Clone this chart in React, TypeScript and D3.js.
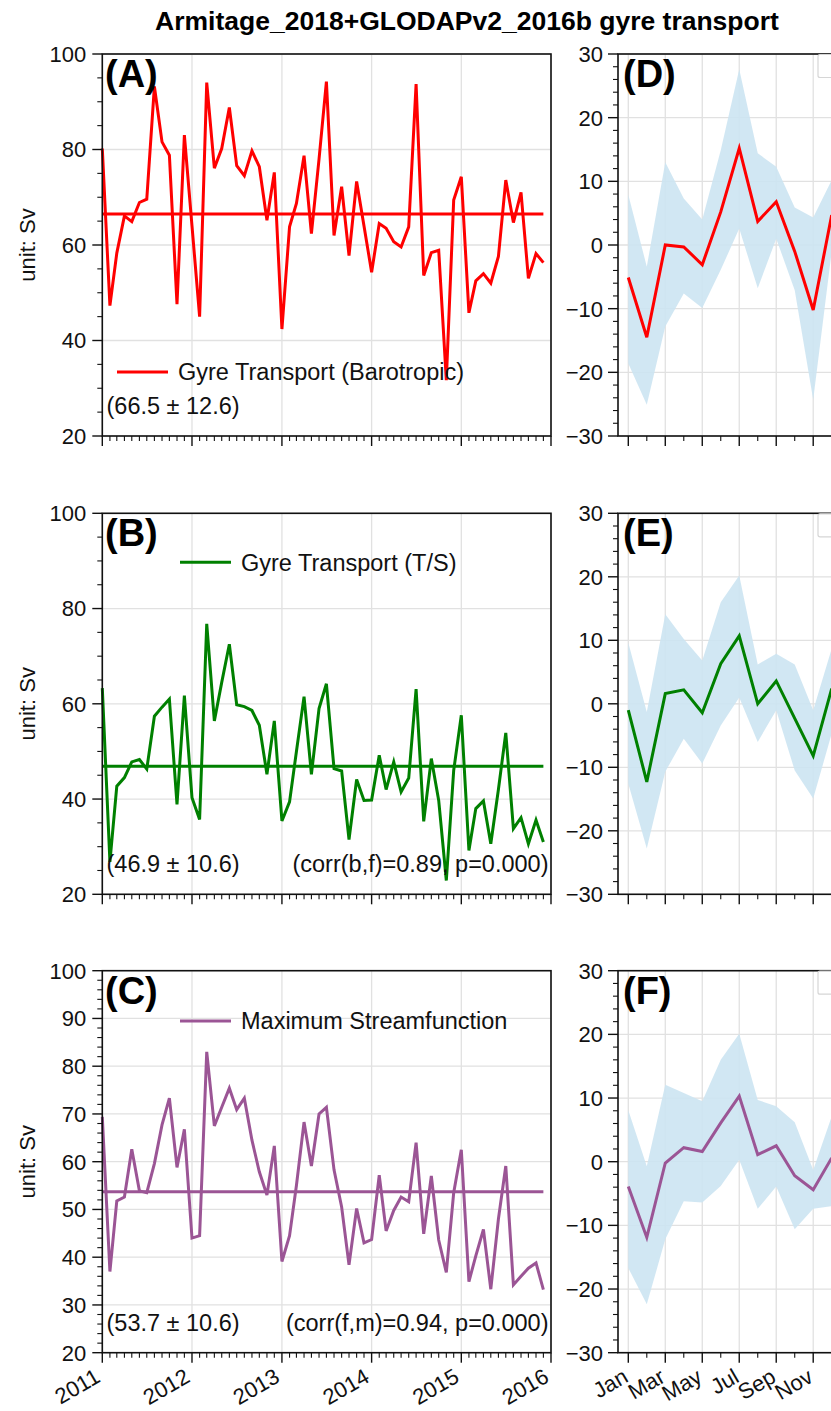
import React from 'react';
import * as d3 from 'd3';

const FONT = '"Liberation Sans", Arial, Helvetica, sans-serif';

// ---------- data ----------
const yearLabels = ['2011', '2012', '2013', '2014', '2015', '2016'];
const monthTickValues = [1, 3, 5, 7, 9, 11];
const monthTickLabels = ['Jan', 'Mar', 'May', 'Jul', 'Sep', 'Nov'];
const monthNumbers = [1, 2, 3, 4, 5, 6, 7, 8, 9, 10, 11, 12];

const barotropic = [
  80.2, 47.3, 58.3, 66.1, 64.9, 68.9, 69.6, 93.2, 81.6, 78.8,
  47.6, 83.0, 64.0, 45.0, 94.0, 76.1, 80.2, 88.8, 76.6, 74.5,
  79.7, 76.4, 65.2, 75.2, 42.4, 63.8, 68.7, 78.7, 62.4, 78.0,
  94.2, 62.0, 72.2, 57.8, 73.3, 64.0, 54.3, 64.5, 63.5, 60.7,
  59.6, 63.8, 93.7, 53.6, 58.4, 58.9, 31.7, 69.4, 74.3, 45.8,
  52.5, 54.0, 52.0, 57.6, 73.6, 64.7, 71.0, 53.0, 58.2, 56.3,
];
const tsTransport = [
  63.3, 26.8, 42.7, 44.5, 47.8, 48.3, 46.3, 57.4, 59.3, 61.0,
  38.9, 61.7, 40.3, 35.7, 76.8, 56.4, 64.5, 72.5, 59.8, 59.4,
  58.6, 55.5, 45.2, 56.4, 35.4, 39.4, 50.0, 61.5, 45.2, 59.0,
  64.2, 46.4, 45.9, 31.5, 44.1, 39.7, 39.8, 49.2, 42.0, 47.8,
  41.5, 44.4, 63.1, 35.3, 48.5, 39.7, 22.9, 46.0, 57.6, 29.2,
  38.0, 39.6, 30.6, 42.0, 53.9, 33.8, 36.1, 30.6, 35.6, 31.0,
];
const maxStream = [
  69.4, 37.0, 51.8, 52.6, 62.6, 53.9, 53.5, 59.6, 67.7, 73.3,
  58.8, 66.8, 44.0, 44.5, 83.0, 67.5, 71.4, 75.4, 70.9, 73.3,
  64.5, 57.9, 53.0, 63.3, 39.1, 44.5, 55.0, 68.3, 59.1, 70.0,
  71.4, 58.3, 50.5, 38.4, 50.2, 43.0, 43.7, 57.2, 45.5, 49.8,
  52.6, 51.6, 64.0, 44.9, 57.0, 43.6, 36.8, 53.5, 62.5, 34.9,
  40.3, 45.8, 33.3, 48.0, 59.1, 34.2, 36.0, 37.7, 38.8, 33.2,
];
const means = [66.5, 46.9, 53.7];
const stdevs = [12.6, 10.6, 10.6];

const climBaro = [-5.1, -14.5, 0.0, -0.3, -3.1, 5.2, 15.2, 3.7, 6.8, -1.0, -10.2, 4.7];
const climBaroHi = [7.9, -3.4, 13.0, 7.3, 4.0, 14.9, 27.6, 14.4, 12.3, 5.9, 4.3, 10.2];
const climBaroLo = [-18.6, -25.1, -12.8, -7.6, -9.9, -3.9, 2.6, -6.8, 1.0, -7.1, -24.3, -1.0];

const climTS = [-1.0, -12.3, 1.6, 2.2, -1.4, 6.3, 10.7, 0.0, 3.6, -2.3, -8.2, 2.4];
const climTSHi = [9.6, -1.3, 14.1, 10.2, 6.8, 16.0, 20.2, 6.2, 7.9, 6.2, -1.0, 8.7];
const climTSLo = [-12.6, -22.8, -10.7, -5.5, -9.4, -3.4, 1.0, -6.0, -1.0, -10.5, -14.9, -4.7];

const climMS = [-3.9, -11.9, -0.2, 2.2, 1.6, 6.1, 10.3, 1.1, 2.5, -2.2, -4.4, 0.6];
const climMSHi = [8.1, -0.7, 12.1, 10.8, 9.5, 16.0, 20.1, 9.7, 8.7, 6.2, -1.3, 7.1];
const climMSLo = [-16.7, -22.4, -12.2, -6.2, -6.4, -3.8, 0.3, -7.4, -3.9, -10.6, -7.4, -7.0];

// ---------- layout ----------
const W = 831, H = 1411;
const LX0 = 102.3, LX1 = 551;
const RX0 = 618, RX1 = 842;
const PANEL_Y: [number, number][] = [[54, 436], [513.3, 894.3], [970.7, 1352.7]];
const GRID = '#e1e1e1';
const BAND = '#cce4f2';

const tStart = new Date(Date.UTC(2011, 0, 1));
const tEnd = new Date(Date.UTC(2016, 0, 1));
const xTime = d3.scaleUtc().domain([tStart, tEnd]).range([LX0, LX1]);
const xMonth = d3.scaleLinear().domain([0.443, 12.557]).range([RX0, RX1]);
const dates = d3.range(60).map((i) => new Date(Date.UTC(2011, i, 1)));
const yearDates = yearLabels.map((y) => new Date(Date.UTC(+y, 0, 1)));
const monthDates = d3.utcMonth.range(tStart, new Date(Date.UTC(2016, 0, 2)));

function LeftPanel(props: any) {
  const { idx, data, color, label, legend, legendX, legendDy, corr, yStep, yMinorStep, showX } = props;
  const [top, bottom] = PANEL_Y[idx];
  const y = d3.scaleLinear().domain([20, 100]).range([bottom, top]);
  const majors = d3.range(20, 100.01, yStep);
  const minors = d3.range(20, 100.01, yMinorStep).filter((v) => !majors.includes(v));
  const line = d3.line<number>().x((_, i) => xTime(dates[i])).y((d) => y(d));
  const mean = means[idx];
  const legY = top + legendDy;
  return (
    <g>
      {majors.map((v) => (
        <line key={'gy' + v} x1={LX0} x2={LX1} y1={y(v)} y2={y(v)} stroke={GRID} strokeWidth={1.3} />
      ))}
      {yearDates.map((d, i) => (
        <line key={'gx' + i} x1={xTime(d)} x2={xTime(d)} y1={top} y2={bottom} stroke={GRID} strokeWidth={1.3} />
      ))}
      <path d={line(data) || ''} fill="none" stroke={color} strokeWidth={3} strokeLinejoin="miter" />
      <line x1={xTime(dates[0])} x2={xTime(dates[59])} y1={y(mean)} y2={y(mean)} stroke={color} strokeWidth={3} />
      <rect x={LX0} y={top} width={LX1 - LX0} height={bottom - top} fill="none" stroke="#111" strokeWidth={1.6} />
      {majors.map((v) => (
        <g key={'ty' + v}>
          <line x1={LX0 - 10} x2={LX0} y1={y(v)} y2={y(v)} stroke="#111" strokeWidth={1.4} />
          <text x={LX0 - 16} y={y(v)} dy="0.36em" textAnchor="end" fontSize={22} fontFamily={FONT} fill="#111">{v}</text>
        </g>
      ))}
      {minors.map((v) => (
        <line key={'my' + v} x1={LX0 - 5} x2={LX0} y1={y(v)} y2={y(v)} stroke="#111" strokeWidth={1.1} />
      ))}
      {monthDates.map((d, i) => {
        const major = d.getUTCMonth() === 0;
        return (
          <line key={'mx' + i} x1={xTime(d)} x2={xTime(d)} y1={bottom} y2={bottom + (major ? 10 : 5)} stroke="#111" strokeWidth={major ? 1.4 : 1.1} />
        );
      })}
      {showX && yearDates.map((d, i) => (
        <text key={'xl' + i} transform={`translate(${xTime(d) - 9},${bottom + 14}) rotate(-30)`} dy="0.75em" textAnchor="end" fontSize={22} fontFamily={FONT} fill="#111">{yearLabels[i]}</text>
      ))}
      <text transform={`translate(35,${(top + bottom) / 2}) rotate(-90)`} textAnchor="middle" fontSize={22} fontFamily={FONT} fill="#111">unit: Sv</text>
      <text x={105} y={top + 33} fontSize={38} fontWeight="bold" fontFamily={FONT} fill="#000">{label}</text>
      <line x1={legendX} x2={legendX + 51} y1={legY} y2={legY} stroke={color} strokeWidth={3} />
      <text x={legendX + 61} y={legY} dy="0.36em" fontSize={23.5} fontFamily={FONT} fill="#111">{legend}</text>
      <text x={106.5} y={bottom - 22} fontSize={23.5} fontFamily={FONT} fill="#111">{`(${mean.toFixed(1)} ± ${stdevs[idx].toFixed(1)})`}</text>
      {corr && (
        <text x={548.5} y={bottom - 22} textAnchor="end" fontSize={23.5} fontFamily={FONT} fill="#111">{corr}</text>
      )}
    </g>
  );
}

function RightPanel(props: any) {
  const { idx, vals, hi, lo, color, label, showX } = props;
  const [top, bottom] = PANEL_Y[idx];
  const y = d3.scaleLinear().domain([-30, 30]).range([bottom, top]);
  const majors = d3.range(-30, 30.01, 10);
  const minors = d3.range(-30, 30.01, 2).filter((v) => !majors.includes(v));
  const area = d3.area<number>().x((_, i) => xMonth(monthNumbers[i])).y0((_, i) => y(lo[i])).y1((_, i) => y(hi[i]));
  const line = d3.line<number>().x((_, i) => xMonth(monthNumbers[i])).y((d) => y(d));
  const fmt = (v: number) => (v < 0 ? '\u2212' + Math.abs(v) : String(v));
  return (
    <g>
      {majors.map((v) => (
        <line key={'gy' + v} x1={RX0} x2={RX1} y1={y(v)} y2={y(v)} stroke={GRID} strokeWidth={1.3} />
      ))}
      {monthTickValues.map((m) => (
        <line key={'gx' + m} x1={xMonth(m)} x2={xMonth(m)} y1={top} y2={bottom} stroke={GRID} strokeWidth={1.3} />
      ))}
      <path d={area(hi) || ''} fill={BAND} fillOpacity={0.9} />
      <path d={line(vals) || ''} fill="none" stroke={color} strokeWidth={3} />
      <rect x={RX0} y={top} width={RX1 - RX0} height={bottom - top} fill="none" stroke="#111" strokeWidth={1.6} />
      <rect x={818} y={top + 0.5} width={40} height={23} rx={2} fill="#fff" stroke="#d6d6d6" strokeWidth={1.2} />
      {majors.map((v) => (
        <g key={'ty' + v}>
          <line x1={RX0 - 10} x2={RX0} y1={y(v)} y2={y(v)} stroke="#111" strokeWidth={1.4} />
          <text x={RX0 - 15} y={y(v)} dy="0.36em" textAnchor="end" fontSize={22} fontFamily={FONT} fill="#111">{fmt(v)}</text>
        </g>
      ))}
      {minors.map((v) => (
        <line key={'my' + v} x1={RX0 - 5} x2={RX0} y1={y(v)} y2={y(v)} stroke="#111" strokeWidth={1.1} />
      ))}
      {monthNumbers.map((m) => {
        const major = m % 2 === 1;
        return (
          <line key={'mx' + m} x1={xMonth(m)} x2={xMonth(m)} y1={bottom} y2={bottom + (major ? 10 : 5)} stroke="#111" strokeWidth={major ? 1.4 : 1.1} />
        );
      })}
      {showX && monthTickValues.map((m, i) => (
        <text key={'xl' + m} transform={`translate(${xMonth(m) - 7},${bottom + 14}) rotate(-30)`} dy="0.75em" textAnchor="end" fontSize={22} fontFamily={FONT} fill="#111">{monthTickLabels[i]}</text>
      ))}
      <text x={623} y={top + 33} fontSize={38} fontWeight="bold" fontFamily={FONT} fill="#000">{label}</text>
    </g>
  );
}

export default function App() {
  return (
    <div style={{ position: 'absolute', left: 0, top: 0, width: W, height: H, background: '#fff' }}>
      <svg width={W} height={H} viewBox={`0 0 ${W} ${H}`} style={{ display: 'block', background: '#fff' }}>
        <text x={467} y={30} textAnchor="middle" fontSize={26.5} fontWeight="bold" fontFamily={FONT} fill="#000">
          Armitage_2018+GLODAPv2_2016b gyre transport
        </text>
        <LeftPanel idx={0} data={barotropic} color="#ff0000" label="(A)" legend="Gyre Transport (Barotropic)" legendX={117} legendDy={318} yStep={20} yMinorStep={5} showX={false} />
        <LeftPanel idx={1} data={tsTransport} color="#008000" label="(B)" legend="Gyre Transport (T/S)" legendX={180} legendDy={49} corr="(corr(b,f)=0.89, p=0.000)" yStep={20} yMinorStep={5} showX={false} />
        <LeftPanel idx={2} data={maxStream} color="#9b5595" label="(C)" legend="Maximum Streamfunction" legendX={180} legendDy={50.3} corr="(corr(f,m)=0.94, p=0.000)" yStep={10} yMinorStep={2} showX={true} />
        <RightPanel idx={0} vals={climBaro} hi={climBaroHi} lo={climBaroLo} color="#ff0000" label="(D)" showX={false} />
        <RightPanel idx={1} vals={climTS} hi={climTSHi} lo={climTSLo} color="#008000" label="(E)" showX={false} />
        <RightPanel idx={2} vals={climMS} hi={climMSHi} lo={climMSLo} color="#9b5595" label="(F)" showX={true} />
      </svg>
    </div>
  );
}
